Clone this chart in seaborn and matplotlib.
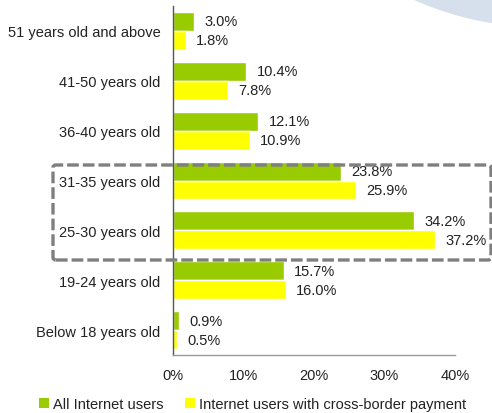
import matplotlib
matplotlib.use("Agg")
import matplotlib.pyplot as plt
from matplotlib.patches import FancyBboxPatch, Ellipse, Patch
import seaborn as sns
import pandas as pd

age_groups = [
    "51 years old and above",
    "41-50 years old",
    "36-40 years old",
    "31-35 years old",
    "25-30 years old",
    "19-24 years old",
    "Below 18 years old",
]
all_users = [3.0, 10.4, 12.1, 23.8, 34.2, 15.7, 0.9]
cross_border = [1.8, 7.8, 10.9, 25.9, 37.2, 16.0, 0.5]
series_names = ["All Internet users", "Internet users with cross-border payment"]
series_colors = ["#99cc00", "#ffff00"]
x_ticks = [0, 10, 20, 30, 40]

df = pd.DataFrame({
    "age": age_groups * 2,
    "share": all_users + cross_border,
    "series": [series_names[0]] * len(age_groups) + [series_names[1]] * len(age_groups),
})

sns.set_theme(style="white")
plt.rcParams["font.family"] = ["Liberation Sans", "DejaVu Sans"]

W, H = 492, 414
fig = plt.figure(figsize=(W / 100, H / 100), dpi=100)
ax = fig.add_axes([173 / W, 1 - 356 / H, (455 - 173) / W, (356 - 7) / H])

# decorative pale disc in the top-right corner
r = 307.9
fig.patches.append(Ellipse((540 / W, 1 + 280 / H), 2 * r / W, 2 * r / H,
                           transform=fig.transFigure, facecolor="#d6dfec",
                           edgecolor="none", zorder=0))

sns.barplot(data=df, y="age", x="share", hue="series", order=age_groups,
            hue_order=series_names, palette=series_colors, orient="h",
            width=0.76, saturation=1, legend=False, ax=ax)

ax.set_xlim(0, 40)
ax.set_ylim(len(age_groups) - 0.5, -0.5)
ax.set_xticks(x_ticks)
ax.set_xticklabels([f"{t}%" for t in x_ticks])
ax.set_xlabel("")
ax.set_ylabel("")
ax.tick_params(axis="both", length=0, labelsize=10.5, colors="#222222")
ax.tick_params(axis="y", pad=9)
ax.tick_params(axis="x", pad=9)
ax.patch.set_alpha(0)
for side in ["top", "right"]:
    ax.spines[side].set_visible(False)
ax.spines["left"].set_color("#555555")
ax.spines["bottom"].set_color("#999999")
ax.spines["left"].set_linewidth(1)
ax.spines["bottom"].set_linewidth(1)

# value labels beside each bar
for container in ax.containers:
    ax.bar_label(container, labels=[f"{v:.1f}%" for v in container.datavalues],
                 padding=7.5, fontsize=10.5, color="#222222")

# dashed frame around the 25-35 age range
frame = FancyBboxPatch((53 / W, 1 - 261 / H), (491 - 53) / W, (261 - 166) / H,
                       boxstyle="round,pad=0,rounding_size=0.006",
                       transform=fig.transFigure, fill=False,
                       edgecolor="#7f7f7f", linewidth=2.4,
                       linestyle=(0, (3.5, 1.2)), zorder=5)
fig.patches.append(frame)

handles = [Patch(facecolor=c, edgecolor="none") for c in series_colors]
fig.legend(handles, series_names, loc="center", bbox_to_anchor=(0.513, 1 - 405 / H),
           ncol=2, frameon=False, fontsize=10.5, handlelength=0.7, handleheight=0.7,
           handletextpad=0.25, columnspacing=1.5, labelcolor="#222222")

fig.savefig("out.png", dpi=100)
